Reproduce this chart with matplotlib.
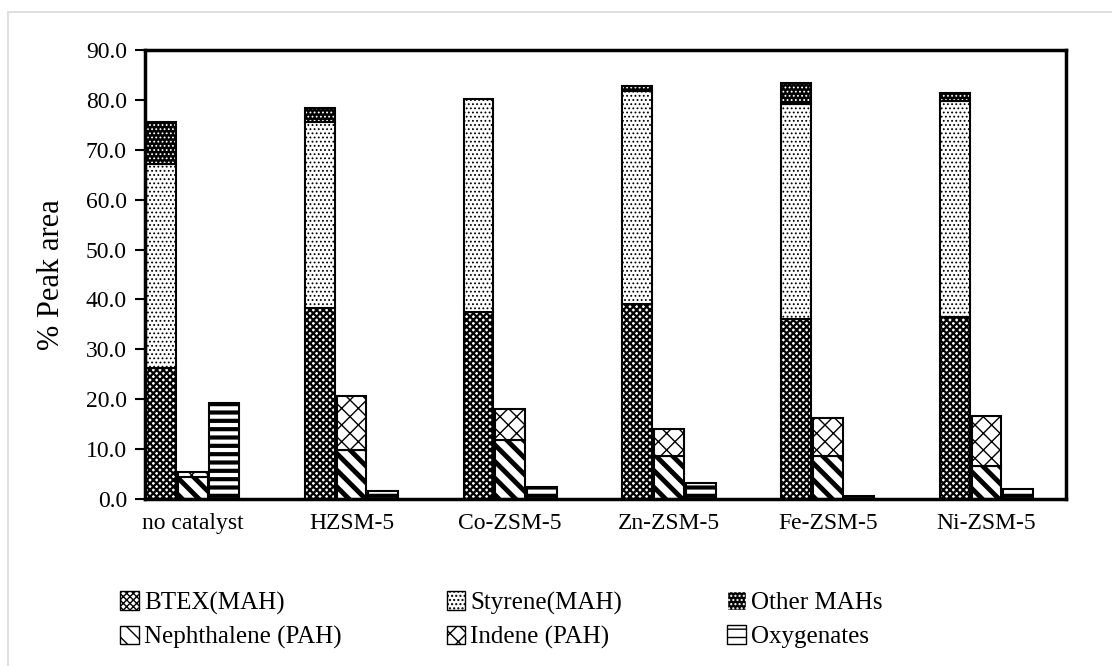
import matplotlib.pyplot as plt
import matplotlib.patches as mpatches
import numpy as np

plt.rcParams['font.family'] = ['Liberation Serif', 'DejaVu Serif']

catalysts = ['no catalyst', 'HZSM-5', 'Co-ZSM-5', 'Zn-ZSM-5', 'Fe-ZSM-5', 'Ni-ZSM-5']

# bar 1 (stacked MAHs)
btex = [26.2, 38.2, 37.5, 39.0, 36.0, 36.5]
styrene = [40.9, 37.4, 42.6, 42.8, 43.2, 43.3]
other_mah = [8.5, 2.7, 0.0, 1.0, 4.1, 1.5]
# bar 2 (stacked PAHs)
nephthalene = [4.5, 9.8, 11.8, 8.6, 8.6, 6.6]
indene = [1.0, 10.8, 6.2, 5.4, 7.7, 10.1]
# bar 3
oxygenates = [19.2, 1.5, 2.3, 3.3, 0.5, 1.9]

yticks = np.arange(0, 91, 10)

# styles: (face, hatch colour, hatch, hatch linewidth)
st = {
    'BTEX(MAH)': ('white', 'black', 'xxxxx', 1.6),
    'Styrene(MAH)': ('white', 'black', '....', 0.8),
    'Other MAHs': ('black', 'white', '....', 0.8),
    'Nephthalene (PAH)': ('white', 'black', '\\\\', 3.5),
    'Indene (PAH)': ('white', 'black', 'xx', 1.0),
    'Oxygenates': ('white', 'black', '--', 3.0),
}

fig = plt.figure(figsize=(11.12, 6.66), dpi=100)
ax = fig.add_axes([0.1304, 0.2508, 0.8282, 0.6742])

# each catalyst occupies 5 slots: 3 bars + 2 blank
base = np.arange(len(catalysts)) * 5
w = 0.94


def seg(x, h, b, name):
    face, hc, hatch, hlw = st[name]
    with plt.rc_context({'hatch.linewidth': hlw}):
        bars = ax.bar(x, h, w, bottom=b, color=face, edgecolor=hc, hatch=hatch, linewidth=0)
    for p in bars:
        if hasattr(p, 'set_hatch_linewidth'):
            p.set_hatch_linewidth(hlw)
    ax.bar(x, h, w, bottom=b, fill=False, edgecolor='black', linewidth=1.5)


b1 = np.array(btex)
b2 = b1 + np.array(styrene)
seg(base, btex, 0, 'BTEX(MAH)')
seg(base, styrene, b1, 'Styrene(MAH)')
mask = np.array(other_mah) > 0
seg(base[mask], np.array(other_mah)[mask], b2[mask], 'Other MAHs')

seg(base + 1, nephthalene, 0, 'Nephthalene (PAH)')
seg(base + 1, indene, np.array(nephthalene), 'Indene (PAH)')

seg(base + 2, oxygenates, 0, 'Oxygenates')

ax.set_xlim(-0.5, 28.5)
ax.set_ylim(0, 90)
ax.set_yticks(yticks)
ax.set_yticklabels([f'{v:.1f}' for v in yticks], fontsize=17)
ax.set_xticks(base + 1)
ax.set_xticklabels(catalysts, fontsize=17)
ax.tick_params(axis='x', length=0, pad=10)
ax.tick_params(axis='y', length=7, width=1.5, direction='out', pad=6)
for s in ax.spines.values():
    s.set_linewidth(2.5)
ax.set_ylabel('% Peak area', fontsize=22, labelpad=14)

order = ['BTEX(MAH)', 'Nephthalene (PAH)', 'Styrene(MAH)', 'Indene (PAH)', 'Other MAHs', 'Oxygenates']
handles = []
for name in order:
    face, hc, hatch, hlw = st[name]
    handles.append(mpatches.Patch(facecolor=face, edgecolor=hc, hatch=hatch, label=name))
fig.legend(handles=handles, ncol=3, loc='upper left', bbox_to_anchor=(0.088, 0.146),
           frameon=False, fontsize=18, handlelength=0.75, handleheight=0.75,
           handletextpad=0.2, columnspacing=4.2, labelspacing=0.45)

# outer chart frame
fig.patches.append(mpatches.Rectangle((8 / 1112, -0.05), 1.1, 1 - 12 / 666 + 0.05,
                                      transform=fig.transFigure, fill=False,
                                      edgecolor='#d9d9d9', linewidth=1.2))

fig.savefig('out.png', dpi=100)
